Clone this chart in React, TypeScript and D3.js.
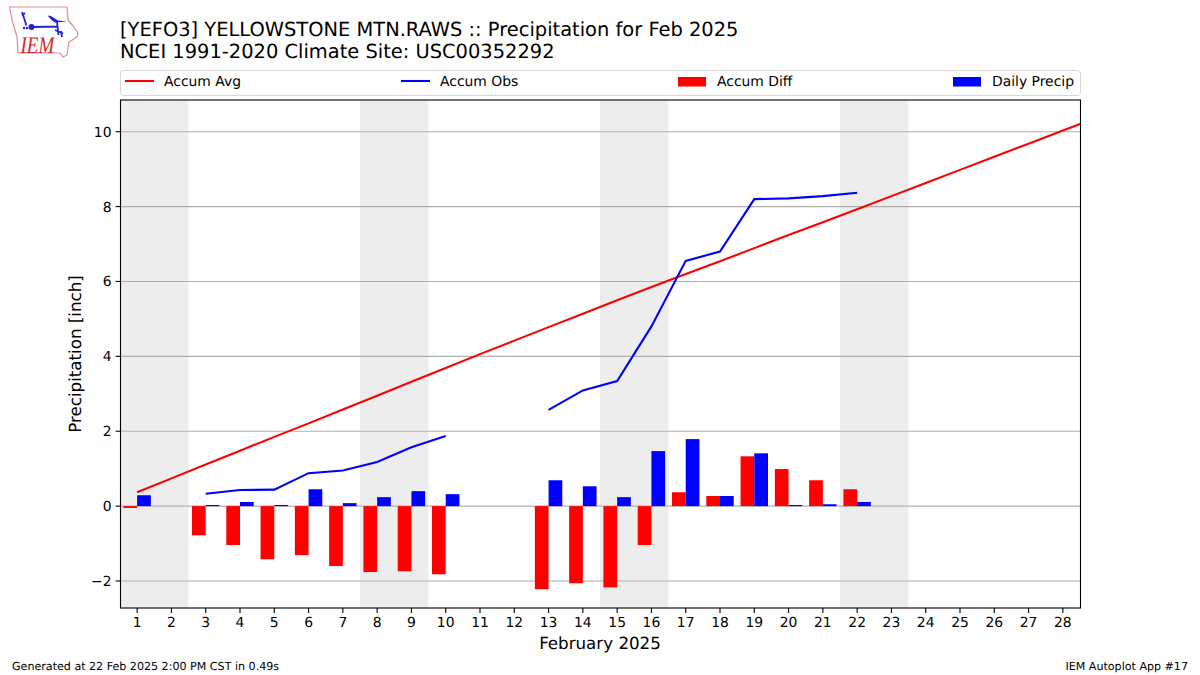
import React from "react";
import * as d3 from "d3";

const days = d3.range(1, 29);
const accumAvg = [0.37,0.74,1.11,1.48,1.85,2.21,2.58,2.95,3.32,3.69,4.06,4.42,4.78,5.14,5.5,5.85,6.2,6.54,6.89,7.24,7.58,7.93,8.28,8.63,8.98,9.33,9.68,10.03,10.38];
const obsA: [number, number][] = [[3,0.33],[4,0.43],[5,0.44],[6,0.88],[7,0.95],[8,1.18],[9,1.57],[10,1.87]];
const obsB: [number, number][] = [[13,2.57],[14,3.09],[15,3.34],[16,4.8],[17,6.55],[18,6.8],[19,8.2],[20,8.22],[21,8.28],[22,8.37]];
const accumDiff: [number, number][] = [[1,-0.05],[3,-0.78],[4,-1.04],[5,-1.42],[6,-1.31],[7,-1.6],[8,-1.76],[9,-1.74],[10,-1.82],[13,-2.22],[14,-2.06],[15,-2.17],[16,-1.04],[17,0.37],[18,0.27],[19,1.33],[20,0.99],[21,0.69],[22,0.45]];
const dailyPrecip: [number, number][] = [[1,0.29],[3,0.03],[4,0.11],[5,0.03],[6,0.45],[7,0.08],[8,0.24],[9,0.4],[10,0.32],[13,0.69],[14,0.53],[15,0.24],[16,1.47],[17,1.79],[18,0.27],[19,1.41],[20,0.03],[21,0.05],[22,0.11]];
const weekends: [number, number][] = [[0.5,2.5],[7.5,9.5],[14.5,16.5],[21.5,23.5]];
const yTicks = [-2,0,2,4,6,8,10];
const legendItems = ["Accum Avg","Accum Obs","Accum Diff","Daily Precip"];

const FONT = "'DejaVu Sans', sans-serif";
const L = 120.5, R = 1080.5, T = 100, B = 608;
const x = d3.scaleLinear().domain([0.5, 28.5]).range([120, 1080]);
const y = d3.scaleLinear().domain([-2, 10]).range([581, 131.7]);
const line = d3.line<[number, number]>().x(d => x(d[0])).y(d => y(d[1]));
const barW = 0.4;

export default function App() {
  return (
    <svg width={1200} height={675} style={{ display: "block", position: "absolute", left: 0, top: 0 }} fontFamily={FONT} textRendering="geometricPrecision">
      <defs>
        <clipPath id="plot"><rect x={L} y={T} width={R - L} height={B - T} /></clipPath>
      </defs>
      <rect width={1200} height={675} fill="#fff" />
      {/* logo */}
      <g>
        <path d="M9.500 7 L67 7 L68 20 L73 26 L78 33 L77 37 L69 42 L68 48 L67 55 L63 57 L60 53 L18 53 L17 37 L12 20 Z" fill="#fff" stroke="#e58a8f" strokeWidth={1.2} strokeLinejoin="round" />
        <path d="M32 27 L57 26.500 M57 22 L58.500 35 M22 12 L26 24 M25 13 L22 15.500 M55 30 L63 33.500 M61 31 L62 37" fill="none" stroke="#2222dd" strokeWidth={1.8} />
        <circle cx={31.500} cy={27} r={3} fill="#2222dd" />
        <path d="M47.500 15.500 L51 16 L58 20.500 L67 21.500 L55 22.500 L52 20.500 Z" fill="#2222dd" />
        <circle cx={24} cy={28} r={1.2} fill="#2222dd" /><circle cx={26} cy={24.500} r={1} fill="#2222dd" /><circle cx={27} cy={28} r={1.2} fill="#2222dd" />
        <text transform="translate(20.500,52.500) scale(1,1.25)" fontFamily="'Liberation Serif', serif" fontStyle="italic" fontSize={19} fill="#d8262c">IEM</text>
      </g>
      {/* titles */}
      <text x={120} y={35.500} fontSize={19.45} fill="#000">[YEFO3] YELLOWSTONE MTN.RAWS :: Precipitation for Feb 2025</text>
      <text x={120} y={57.500} fontSize={19.45} fill="#000">NCEI 1991-2020 Climate Site: USC00352292</text>
      {/* legend */}
      <rect x={120.5} y={70.5} width={960} height={25} rx={3} fill="#fff" stroke="#d6d6d6" strokeWidth={1} />
      <line x1={125} x2={154} y1={81} y2={81} stroke="#f00" strokeWidth={2.08} />
      <text x={164} y={86} fontSize={13.9}>{legendItems[0]}</text>
      <line x1={401} x2={430} y1={81} y2={81} stroke="#00f" strokeWidth={2.08} />
      <text x={440} y={86} fontSize={13.9}>{legendItems[1]}</text>
      <rect x={678} y={77} width={28} height={9.500} fill="#f00" />
      <text x={717} y={86} fontSize={13.9}>{legendItems[2]}</text>
      <rect x={953} y={77} width={28} height={9.500} fill="#00f" />
      <text x={992} y={86} fontSize={13.9}>{legendItems[3]}</text>
      {/* plot */}
      {weekends.map((w, i) => (
        <rect key={i} x={x(w[0])} y={T} width={x(w[1]) - x(w[0])} height={B - T} fill="#ededed" />
      ))}
      {yTicks.map(t => (
        <line key={t} x1={L} x2={R} y1={y(t)} y2={y(t)} stroke="#b0b0b0" strokeWidth={1.1} />
      ))}
      <g clipPath="url(#plot)">
        {accumDiff.map(([d, v]) => (
          <rect key={d} x={x(d - barW)} width={x(d) - x(d - barW)} y={Math.min(y(v), y(0))} height={Math.abs(y(v) - y(0))} fill="#f00" />
        ))}
        {dailyPrecip.map(([d, v]) => (
          <rect key={d} x={x(d)} width={x(d + barW) - x(d)} y={y(v)} height={y(0) - y(v)} fill="#00f" />
        ))}
        <path d={line(accumAvg.map((v, i) => [i + 1, v] as [number, number])) || ""} fill="none" stroke="#f00" strokeWidth={2.08} />
        <path d={line(obsA) || ""} fill="none" stroke="#00f" strokeWidth={2.08} />
        <path d={line(obsB) || ""} fill="none" stroke="#00f" strokeWidth={2.08} />
      </g>
      <rect x={L} y={T} width={R - L} height={B - T} fill="none" stroke="#000" strokeWidth={1.1} />
      {/* axes */}
      {days.map(d => (
        <g key={d}>
          <line x1={x(d)} x2={x(d)} y1={B} y2={B + 4.9} stroke="#000" strokeWidth={1.1} />
          <text x={x(d)} y={B + 18.500} fontSize={13.9} textAnchor="middle">{d}</text>
        </g>
      ))}
      {yTicks.map(t => (
        <g key={t}>
          <line x1={L - 4.9} x2={L} y1={y(t)} y2={y(t)} stroke="#000" strokeWidth={1.1} />
          <text x={L - 9} y={y(t) + 5} fontSize={13.9} textAnchor="end">{t < 0 ? "\u2212" + Math.abs(t) : t}</text>
        </g>
      ))}
      <text x={600} y={649} fontSize={16.7} textAnchor="middle">February 2025</text>
      <text transform={`translate(81,354) rotate(-90)`} fontSize={16.7} textAnchor="middle">Precipitation [inch]</text>
      {/* footer */}
      <text x={12} y={670} fontSize={11.1}>Generated at 22 Feb 2025 2:00 PM CST in 0.49s</text>
      <text x={1188} y={670} fontSize={11.1} textAnchor="end">IEM Autoplot App #17</text>
    </svg>
  );
}
